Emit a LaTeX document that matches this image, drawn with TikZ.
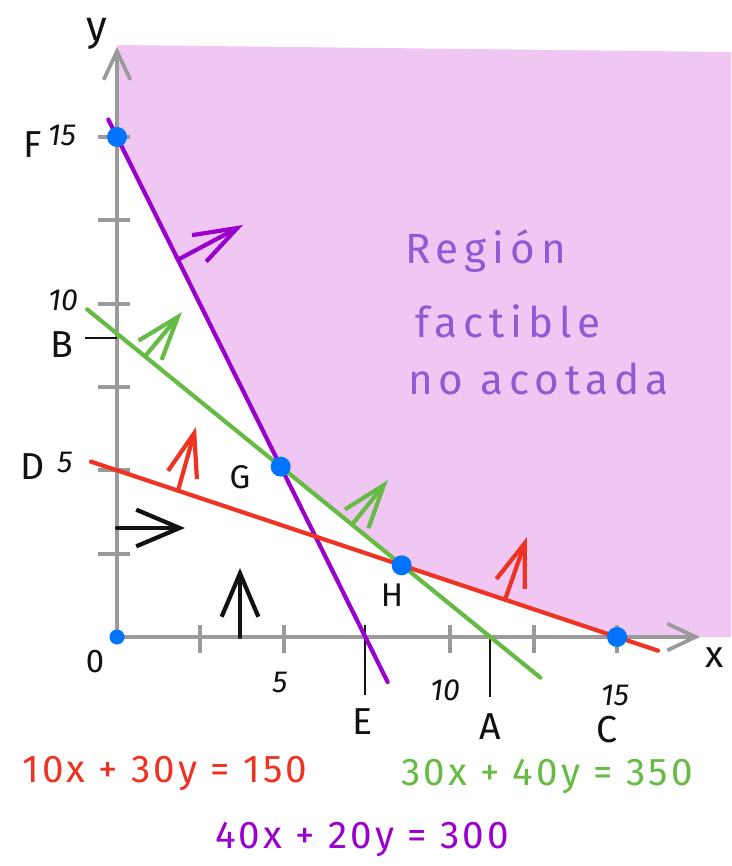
\documentclass[tikz,border=0pt]{standalone}
\usepackage{fontspec}
\setmainfont{Fira Sans}
\setsansfont{Fira Sans}
\newfontfamily\handfont[LetterSpace=14]{Fira Sans}
\newfontfamily\eqfont[LetterSpace=8]{Fira Sans}
\usetikzlibrary{arrows.meta, calc, positioning}
\definecolor{axisgray}{HTML}{9A9A9A}
\definecolor{regionfill}{HTML}{F0C6F2}
\definecolor{linered}{HTML}{EE3322}
\definecolor{linegreen}{HTML}{66BB44}
\definecolor{linepurple}{HTML}{9900CC}
\definecolor{textpurple}{HTML}{8F5AD3}
\definecolor{dotblue}{HTML}{0073FF}
\definecolor{ink}{HTML}{111111}
\tikzset{
  font=\sffamily,
  %
  axis/.style={draw=axisgray, line width=3.2pt,
               -{Straight Barb[length=8.5mm, width=8mm]}},
  tickmark/.style={draw=axisgray, line width=3.2pt},
  marker/.style={draw=ink, line width=1.8pt},
  %
  constraint/.style={line width=3.6pt, line cap=round},
  dirarrow/.style={line width=3.6pt, line cap=round, line join=round,
                   -{Straight Barb[length=13mm, width=9mm]}},
  blackarrow/.style={dirarrow, draw=ink,
                     -{Straight Barb[length=13mm, width=11mm]}},
  %
  dot/.style={circle, fill=dotblue, inner sep=0pt, minimum size=6mm},
  %
  ptlbl/.style={font=\sffamily\fontsize{32}{34}\selectfont, text=ink, inner sep=1pt},
  numlbl/.style={font=\sffamily\itshape\fontsize{26}{28}\selectfont, text=ink, inner sep=1pt},
  eqlbl/.style={font=\eqfont\fontsize{33}{35}\selectfont, inner sep=0pt, anchor=base},
  regionlbl/.style={font=\handfont\fontsize{36}{38}\selectfont, text=textpurple,
                    inner sep=0pt, anchor=base west},
}

\begin{document}
\begin{tikzpicture}[x=1cm, y=1cm]
\useasboundingbox (-3.51,-6.87) rectangle (18.42,19.11);

% ------------------------------------------------------------- points
\coordinate (O) at (0,0);
\coordinate (F) at (0,15);
\coordinate (E) at (7.45,0);
\coordinate (B) at (0,9.1);
\coordinate (A) at (11.2,0);
\coordinate (D) at (0,5);
\coordinate (C) at (15,0);
\coordinate (G) at (4.91,5.11);
\coordinate (H) at (8.54,2.15);

% ------------------------------------------------------------- region
\fill[regionfill] (0,17.76) -- (18.42,17.55) -- (18.42,0) -- (C) -- (H)
  -- (G) -- (F) -- cycle;

% --------------------------------------------------------------- axes
\coordinate (xend) at (17.49,0);
\coordinate (yend) at (0,17.7);
\draw[axis] (O) -- (xend);
\draw[axis] (O) -- (yend);
\foreach \t in {2.5,5,10,12.5,15} { \draw[tickmark] (\t,0.36) -- (\t,-0.48); }
\foreach \t in {2.5,5,7.5,10,12.5,15} { \draw[tickmark] (-0.57,\t) -- (0.39,\t); }

\coordinate (Bm) at (-0.96,8.97);
\coordinate (Bn) at (0,8.97);
\coordinate (Em) at (7.45,0.36);
\coordinate (En) at (7.45,-1.74);
\coordinate (An) at (11.2,-1.8);
\draw[marker] (Bm) -- (Bn);
\draw[marker] (Em) -- (En);
\draw[marker] (A) -- (An);

% -------------------------------------------------------- constraints
\draw[constraint, draw=linepurple] ($(F)!-0.035!(E)$) -- ($(F)!1.09!(E)$);
\draw[constraint, draw=linegreen]  ($(B)!-0.08!(A)$)  -- ($(B)!1.134!(A)$);
\draw[constraint, draw=linered]    ($(D)!-0.052!(C)$) -- ($(D)!1.082!(C)$);

% ---------------------------------------------------------- directions
\coordinate (pa0) at (1.83,11.32);  \coordinate (pa1) at (3.78,12.36);
\coordinate (ga0) at (0.84,8.42);   \coordinate (ga1) at (1.95,9.75);
\coordinate (gb0) at (7.05,3.37);   \coordinate (gb1) at (8.13,4.71);
\coordinate (ra0) at (1.83,4.39);   \coordinate (ra1) at (2.37,6.30);
\coordinate (rb0) at (11.64,1.12);  \coordinate (rb1) at (12.30,3.00);
\coordinate (xa0) at (0,3.27);      \coordinate (xa1) at (2.04,3.27);
\coordinate (ya0) at (3.69,0);      \coordinate (ya1) at (3.69,2.07);

\draw[dirarrow, draw=linepurple] (pa0) -- (pa1);
\draw[dirarrow, draw=linegreen]  (ga0) -- (ga1);
\draw[dirarrow, draw=linegreen]  (gb0) -- (gb1);
\draw[dirarrow, draw=linered]    (ra0) -- (ra1);
\draw[dirarrow, draw=linered]    (rb0) -- (rb1);
\draw[blackarrow] (xa0) -- (xa1);
\draw[blackarrow] (ya0) -- (ya1);

% --------------------------------------------------------------- dots
\node[dot, minimum size=4.5mm] (dotO) at (O) {};
\node[dot] (dotF) at (F) {};
\node[dot] (dotG) at (G) {};
\node[dot] (dotH) at (H) {};
\node[dot] (dotC) at (C) {};

% ------------------------------------------------------------- labels
\node[ptlbl, font=\sffamily\fontsize{36}{38}\selectfont] (ylbl) at (-0.6,18.1) {y};
\node[ptlbl] (xlbl) at (17.94,-0.62) {x};
\node[ptlbl, font=\sffamily\fontsize{28}{30}\selectfont] (Olbl) at (-0.66,-0.75) {0};
\node[ptlbl] (Flbl) at (-2.52,14.76) {F};
\node[ptlbl] (Blbl) at (-1.65,8.76) {B};
\node[ptlbl] (Dlbl) at (-2.52,5.1) {D};
\node[ptlbl] (Elbl) at (7.38,-2.55) {E};
\node[ptlbl] (Albl) at (11.19,-2.7) {A};
\node[ptlbl] (Clbl) at (14.7,-2.79) {C};
\node[ptlbl, font=\sffamily\fontsize{28}{30}\selectfont] (Glbl) at (3.69,4.8) {G};
\node[ptlbl, font=\sffamily\fontsize{28}{30}\selectfont] (Hlbl) at (8.25,1.26) {H};

\node[numlbl] (y15) at (-1.65,15.06) {15};
\node[numlbl] (y10) at (-1.62,10.1) {10};
\node[numlbl] (y5)  at (-1.56,5.25) {5};
\node[numlbl] (x5)  at (4.89,-1.35) {5};
\node[numlbl] (x10) at (9.84,-1.6) {10};
\node[numlbl] (x15) at (14.94,-1.74) {15};

\node[regionlbl] (reg1) at (8.64,11.19) {Región};
\node[regionlbl] (reg2) at (8.94,8.97) {factible};
\node[regionlbl] (reg3) at (8.73,7.26) {no acotada};

\node[eqlbl, text=linered]    (eqred)    at (1.44,-4.35) {10x + 30y = 150};
\node[eqlbl, text=linegreen]  (eqgreen)  at (12.9,-4.44) {30x + 40y = 350};
\node[eqlbl, text=linepurple] (eqpurple) at (7.35,-6.33) {40x + 20y = 300};

\end{tikzpicture}
\end{document}
